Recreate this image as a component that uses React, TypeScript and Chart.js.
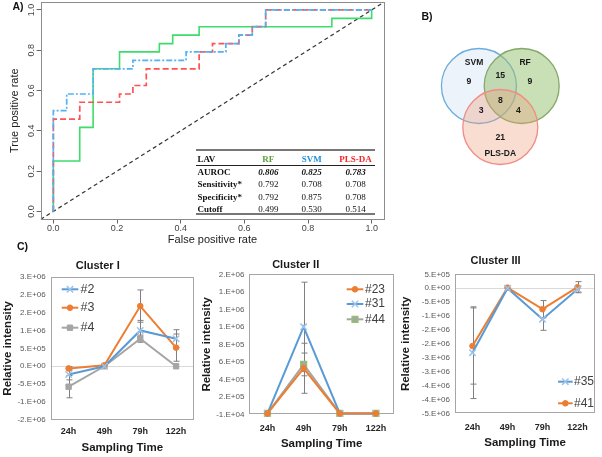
import React, { useEffect, useRef } from 'react';
import { Chart, registerables } from 'chart.js';
import { drawPoint } from 'chart.js/helpers';

Chart.register(...registerables);

const SANS = '"Liberation Sans", Arial, sans-serif';
const SERIF = '"Liberation Serif", "Times New Roman", serif';

// ---------- Panel A: ROC curves ----------
const rfFpr = [0, 0, 0.083, 0.125, 0.208, 0.333, 0.375, 0.458, 0.875, 1];
const rfTpr = [0, 0.25, 0.417, 0.708, 0.792, 0.833, 0.875, 0.917, 0.958, 1];
const svmFpr = [0, 0, 0.042, 0.125, 0.25, 0.417, 0.542, 0.583, 0.625, 0.667, 1];
const svmTpr = [0, 0.5, 0.583, 0.708, 0.75, 0.792, 0.833, 0.875, 0.917, 1, 1];
const plsFpr = [0, 0, 0.083, 0.208, 0.25, 0.292, 0.458, 0.5, 0.583, 0.625, 0.667, 1];
const plsTpr = [0, 0.458, 0.542, 0.583, 0.625, 0.708, 0.792, 0.833, 0.875, 0.917, 1, 1];
const chanceLine = [-0.04, 1.04];
const rocTicks = [0, 0.2, 0.4, 0.6, 0.8, 1.0];
const rocTickLabels = ['0.0', '0.2', '0.4', '0.6', '0.8', '1.0'];

// Table
const modelNames = ['RF', 'SVM', 'PLS-DA'];
const modelColors = ['#5BA03C', '#1F8FD8', '#F02828'];
const auroc = [0.806, 0.825, 0.783];
const sensitivity = [0.792, 0.708, 0.708];
const specificity = [0.792, 0.875, 0.708];
const cutoff = [0.499, 0.53, 0.514];

// ---------- Panel B: Venn ----------
const vennSets = ['SVM', 'RF', 'PLS-DA'];
const vennCenterX = [-0.57, 0.57, 0];
const vennCenterY = [0.547, 0.547, -0.547];
const vennRadius = 37.5;
const vennCounts = [9, 9, 21, 15, 3, 4, 8];
const vennCountX = [-0.84, 0.79, 0, 0, -0.51, 0.48, 0];
const vennCountY = [0.66, 0.66, -0.82, 0.82, -0.12, -0.12, 0.17];
const vennNameX = [-0.7, 0.66, 0];
const vennNameY = [1.16, 1.16, -1.26];

// ---------- Panel C: clusters ----------
const timePoints = ['24h', '49h', '79h', '122h'];

const c1Names = ['#2', '#3', '#4'];
const c1S2 = [-230000, 0, 1000000, 770000];
const c1S3 = [-60000, 30000, 1680000, 520000];
const c1S4 = [-570000, 0, 770000, 0];
const c1E2 = [150000, 0, 280000, 250000];
const c1E3 = [50000, 0, 450000, 380000];
const c1E4 = [310000, 0, 100000, 0];
const c1Ticks = [-1500000, -1000000, -500000, 0, 500000, 1000000, 1500000, 2000000, 2500000];
const c1TickLabels = ['-2.E+06', '-1.E+06', '-5.E+05', '0.E+00', '5.E+05', '1.E+06', '2.E+06', '2.E+06', '3.E+06'];

const c2Names = ['#23', '#31', '#44'];
const c2S23 = [0, 516000, 0, 0];
const c2S31 = [0, 990000, 0, 0];
const c2S44 = [0, 560000, 0, 0];
const c2E23 = [0, 286000, 0, 0];
const c2E31 = [0, 510000, 0, 0];
const c2E44 = [0, 130000, 0, 0];
const c2Ticks = [-10000, 190000, 390000, 590000, 790000, 990000, 1190000, 1390000, 1590000];
const c2TickLabels = ['-1.E+04', '2.E+05', '4.E+05', '6.E+05', '8.E+05', '1.E+06', '1.E+06', '1.E+06', '2.E+06'];

const c3Names = ['#35', '#41'];
const c3S35 = [-2320000, 0, -1115000, -36000];
const c3S41 = [-2080000, 20000, -755000, 36000];
const c3E35 = [1650000, 0, 400000, 110000];
const c3E41 = [1370000, 0, 310000, 200000];
const c3Ticks = [-4500000, -4000000, -3500000, -3000000, -2500000, -2000000, -1500000, -1000000, -500000, 0, 500000];
const c3TickLabels = ['-5.E+06', '-4.E+06', '-4.E+06', '-3.E+06', '-3.E+06', '-2.E+06', '-2.E+06', '-1.E+06', '-5.E+05', '0.E+00', '5.E+05'];

type Style = { color: string; pointStyle: string; radius: number; fill: string; border: string; bw: number };
const BLUE: Style = { color: '#5B9BD5', pointStyle: 'crossRot', radius: 4.5, fill: '#9DC3E6', border: '#9DC3E6', bw: 1.5 };
const ORANGE: Style = { color: '#ED7D31', pointStyle: 'circle', radius: 2.8, fill: '#ED7D31', border: '#ED7D31', bw: 1 };
const GRAY: Style = { color: '#A5A5A5', pointStyle: 'rect', radius: 3.8, fill: '#A5A5A5', border: '#A5A5A5', bw: 1 };
const GRAYGREEN: Style = { color: '#A5A5A5', pointStyle: 'rect', radius: 4.2, fill: '#A5A5A5', border: '#92C46D', bw: 1.3 };

// ---------- helpers ----------
const framePlugin = (color: string, when: 'before' | 'after') => {
  const draw = (chart: any) => {
    const { ctx, chartArea: a } = chart;
    ctx.save();
    ctx.strokeStyle = color;
    ctx.lineWidth = 1;
    ctx.strokeRect(Math.round(a.left) + 0.5, Math.round(a.top) + 0.5, Math.round(a.right - a.left) - 1, Math.round(a.bottom - a.top) - 1);
    ctx.restore();
  };
  return when === 'before'
    ? { id: 'frame', beforeDatasetsDraw: draw }
    : { id: 'frame', afterDraw: draw };
};

const errorBarPlugin = (errors: number[][]) => ({
  id: 'errorBars',
  beforeDatasetsDraw(chart: any) {
    const { ctx } = chart;
    const ys = chart.scales.y;
    ctx.save();
    ctx.strokeStyle = '#7F7F7F';
    ctx.lineWidth = 1;
    chart.data.datasets.forEach((ds: any, i: number) => {
      const meta = chart.getDatasetMeta(i);
      ds.data.forEach((v: number, j: number) => {
        const e = errors[i][j];
        if (!e) return;
        const px = Math.round(meta.data[j].x) + 0.5;
        const t = ys.getPixelForValue(v + e);
        const b = ys.getPixelForValue(v - e);
        ctx.beginPath();
        ctx.moveTo(px, t); ctx.lineTo(px, b);
        ctx.moveTo(px - 3, t); ctx.lineTo(px + 3, t);
        ctx.moveTo(px - 3, b); ctx.lineTo(px + 3, b);
        ctx.stroke();
      });
    });
    ctx.restore();
  },
});

type LegendSpec = { x0: number; x1: number; tx: number; ys: number[]; size: number };
const lineLegendPlugin = (lg: LegendSpec) => ({
  id: 'lineLegend',
  afterDatasetsDraw(chart: any) {
    const { ctx } = chart;
    chart.data.datasets.forEach((ds: any, i: number) => {
      const y = lg.ys[i];
      ctx.save();
      ctx.strokeStyle = ds.borderColor;
      ctx.lineWidth = ds.borderWidth;
      ctx.beginPath();
      ctx.moveTo(lg.x0, y);
      ctx.lineTo(lg.x1, y);
      ctx.stroke();
      ctx.fillStyle = ds.pointBackgroundColor;
      ctx.strokeStyle = ds.pointBorderColor;
      ctx.lineWidth = ds.pointBorderWidth;
      drawPoint(ctx, { pointStyle: ds.pointStyle, radius: ds.pointRadius, rotation: 0, borderWidth: ds.pointBorderWidth } as any, (lg.x0 + lg.x1) / 2, y);
      ctx.fillStyle = '#404040';
      ctx.font = `${lg.size}px ${SANS}`;
      ctx.textAlign = 'left';
      ctx.textBaseline = 'middle';
      ctx.fillText(ds.label, lg.tx, y);
      ctx.restore();
    });
  },
});

function ChartCanvas({ left, top, width, height, make }: { left: number; top: number; width: number; height: number; make: () => any }) {
  const ref = useRef<HTMLCanvasElement>(null);
  useEffect(() => {
    const chart = new Chart(ref.current as HTMLCanvasElement, make());
    return () => chart.destroy();
  }, []);
  return <canvas ref={ref} width={width} height={height} style={{ position: 'absolute', left, top, width, height }} />;
}

// ---------- ROC config ----------
function rocConfig() {
  const pts = (xs: number[], ys: number[]) => xs.map((x, i) => ({ x, y: ys[i] }));
  const line = { pointRadius: 0, fill: false, tension: 0, stepped: 'before' as const };
  const yLabels = {
    id: 'rocYLabels',
    afterDraw(chart: any) {
      const { ctx } = chart;
      const ys = chart.scales.y;
      ctx.save();
      ctx.fillStyle = '#444';
      ctx.font = `9px ${SANS}`;
      ctx.textAlign = 'center';
      ctx.textBaseline = 'middle';
      rocTicks.forEach((v, i) => {
        ctx.save();
        ctx.translate(31.5, ys.getPixelForValue(v));
        ctx.rotate(-Math.PI / 2);
        ctx.fillText(rocTickLabels[i], 0, 0);
        ctx.restore();
      });
      ctx.restore();
    },
  };
  return {
    type: 'line',
    data: {
      datasets: [
        { label: 'SVM', data: pts(svmFpr, svmTpr), borderColor: '#52B3F4', borderWidth: 1.7, borderDash: [6, 2, 2, 2], order: 0, ...line },
        { label: 'PLS-DA', data: pts(plsFpr, plsTpr), borderColor: '#FF5252', borderWidth: 1.7, borderDash: [6, 3], order: 1, ...line },
        { label: 'RF', data: pts(rfFpr, rfTpr), borderColor: '#3EDC6C', borderWidth: 1.6, order: 2, ...line },
        { label: 'chance', data: pts(chanceLine, chanceLine), borderColor: '#333', borderWidth: 1.2, borderDash: [4, 3], order: 3, pointRadius: 0, fill: false },
      ],
    },
    options: {
      animation: false,
      responsive: false,
      events: [],
      layout: { padding: { top: 1.9, right: 15.6, left: 0, bottom: 0 } },
      plugins: { legend: { display: false }, tooltip: { enabled: false }, title: { display: false } },
      scales: {
        x: {
          type: 'linear', min: -0.04, max: 1.04,
          afterBuildTicks: (s: any) => { s.ticks = rocTicks.map((v) => ({ value: v })); },
          afterFit: (s: any) => { s.height = 30.5; },
          grid: { drawOnChartArea: false, drawTicks: true, tickLength: 4, color: '#666' },
          border: { display: false },
          ticks: { font: { family: SANS, size: 9 }, color: '#444', padding: 0.1, maxRotation: 0, callback: (v: number) => rocTickLabels[rocTicks.indexOf(v)] },
          title: { display: true, text: 'False positive rate', font: { family: SANS, size: 11 }, color: '#222', padding: { top: 0, bottom: 3.4 } },
        },
        y: {
          type: 'linear', min: -0.04, max: 1.04,
          afterBuildTicks: (s: any) => { s.ticks = rocTicks.map((v) => ({ value: v })); },
          afterFit: (s: any) => { s.width = 40.6; },
          grid: { drawOnChartArea: false, drawTicks: true, tickLength: 4, color: '#666' },
          border: { display: false },
          ticks: { display: false },
          title: { display: true, text: 'True positive rate', font: { family: SANS, size: 11 }, color: '#222', padding: { top: 8.4, bottom: 0 } },
        },
      },
    },
    plugins: [framePlugin('#8C8C8C', 'after'), yLabels],
  };
}

// ---------- Venn config ----------
function vennConfig() {
  const fills = ['rgba(198,218,238,0.32)', 'rgba(147,191,107,0.5)', 'rgba(238,158,121,0.35)'];
  const strokes = ['#6BAEDD', '#86A86A', '#F08C84'];
  const orders = [2, 1, 0];
  const labels = {
    id: 'vennLabels',
    afterDatasetsDraw(chart: any) {
      const { ctx } = chart;
      const xs = chart.scales.x;
      const ys = chart.scales.y;
      ctx.save();
      ctx.fillStyle = '#1A1A1A';
      ctx.textAlign = 'center';
      ctx.textBaseline = 'middle';
      ctx.font = `bold 8.7px ${SANS}`;
      vennCounts.forEach((c, i) => ctx.fillText(String(c), xs.getPixelForValue(vennCountX[i]), ys.getPixelForValue(vennCountY[i])));
      ctx.font = `bold 8.5px ${SANS}`;
      vennSets.forEach((n, i) => ctx.fillText(n, xs.getPixelForValue(vennNameX[i]), ys.getPixelForValue(vennNameY[i])));
      ctx.restore();
    },
  };
  return {
    type: 'bubble',
    data: {
      datasets: vennSets.map((name, i) => ({
        label: name,
        data: [{ x: vennCenterX[i], y: vennCenterY[i], r: vennRadius }],
        backgroundColor: fills[i],
        borderColor: strokes[i],
        borderWidth: 1.3,
        order: orders[i],
        clip: false,
      })),
    },
    options: {
      animation: false,
      responsive: false,
      events: [],
      layout: { padding: 0, autoPadding: false },
      plugins: { legend: { display: false }, tooltip: { enabled: false } },
      scales: {
        x: { type: 'linear', display: false, min: -2.675, max: 2.712 },
        y: { type: 'linear', display: false, min: -3.293, max: 2.84 },
      },
    },
    plugins: [labels],
  };
}

// ---------- Cluster configs ----------
type Box = { padRight: number; titlePad: [number, number]; yWidth: number; yTitlePad: number; xHeight: number; xTickPad: number; xTitlePad: number };
function clusterConfig(title: string, names: string[], values: number[][], errors: number[][], styles: Style[], ticks: number[], tickLabels: string[], box: Box, legend: LegendSpec) {
  return {
    type: 'line',
    data: {
      labels: timePoints,
      datasets: names.map((n, i) => ({
        label: n,
        data: values[i],
        borderColor: styles[i].color,
        borderWidth: 2,
        pointStyle: styles[i].pointStyle,
        pointRadius: styles[i].radius,
        pointBackgroundColor: styles[i].fill,
        pointBorderColor: styles[i].border,
        pointBorderWidth: styles[i].bw,
        fill: false,
        tension: 0,
        clip: false,
      })),
    },
    options: {
      animation: false,
      responsive: false,
      events: [],
      layout: { padding: { top: 0, left: 0, bottom: 0, right: box.padRight } },
      plugins: {
        legend: { display: false },
        tooltip: { enabled: false },
        title: { display: true, text: title, font: { family: SANS, size: 11, weight: 'bold' }, color: '#1A1A1A', padding: { top: box.titlePad[0], bottom: box.titlePad[1] } },
      },
      scales: {
        x: {
          type: 'category', offset: true,
          afterFit: (s: any) => { s.height = box.xHeight; },
          grid: { display: false, drawTicks: false },
          border: { display: false },
          ticks: { font: { family: SANS, size: 9, weight: 'bold' }, color: '#262626', padding: box.xTickPad, maxRotation: 0 },
          title: { display: true, text: 'Sampling Time', font: { family: SANS, size: 11.5, weight: 'bold' }, color: '#1A1A1A', padding: { top: 0, bottom: box.xTitlePad } },
        },
        y: {
          type: 'linear', min: ticks[0], max: ticks[ticks.length - 1],
          afterBuildTicks: (s: any) => { s.ticks = ticks.map((v) => ({ value: v })); },
          afterFit: (s: any) => { s.width = box.yWidth; },
          grid: { drawTicks: false, color: (c: any) => (c.tick && c.tick.value === 0 ? '#D9D9D9' : 'rgba(0,0,0,0)'), lineWidth: 1 },
          border: { display: false },
          ticks: { font: { family: SANS, size: 8 }, color: '#595959', padding: 5, callback: (v: number) => tickLabels[ticks.indexOf(v)] },
          title: { display: true, text: 'Relative intensity', font: { family: SANS, size: 11.5, weight: 'bold' }, color: '#1A1A1A', padding: { top: box.yTitlePad, bottom: 0 } },
        },
      },
    },
    plugins: [framePlugin('#A6A6A6', 'before'), errorBarPlugin(errors), lineLegendPlugin(legend)],
  };
}

const labelStyle = (left: number, top: number): React.CSSProperties => ({
  position: 'absolute', left, top, font: `bold 10.5px ${SANS}`, lineHeight: '12px', color: '#111', whiteSpace: 'nowrap',
});

function RocTable() {
  const labelX = 197.5;
  const colCenters = [268.3, 311.7, 355.5];
  const rowY = [159.8, 172.7, 184.7, 197, 209.3];
  const cell = (text: string, cx: number, cy: number, extra: React.CSSProperties = {}) => (
    <div key={text + cx + cy} style={{ position: 'absolute', left: cx - 30, top: cy - 5.5, width: 60, textAlign: 'center', font: `9px ${SERIF}`, lineHeight: '11px', color: '#111', whiteSpace: 'nowrap', ...extra }}>{text}</div>
  );
  const rowLabel = (text: string, cy: number) => (
    <div key={text} style={{ position: 'absolute', left: labelX, top: cy - 5.5, font: `bold 9px ${SERIF}`, lineHeight: '11px', color: '#111', whiteSpace: 'nowrap' }}>{text}</div>
  );
  const rows: [string, number[], React.CSSProperties][] = [
    ['AUROC', auroc, { fontWeight: 'bold', fontStyle: 'italic' }],
    ['Sensitivity*', sensitivity, {}],
    ['Specificity*', specificity, {}],
    ['Cutoff', cutoff, {}],
  ];
  return (
    <>
      <div style={{ position: 'absolute', left: 196, top: 149.2, width: 179, height: 1.8, background: '#777' }} />
      <div style={{ position: 'absolute', left: 196, top: 164.5, width: 179, height: 1, background: '#222' }} />
      <div style={{ position: 'absolute', left: 196, top: 213.3, width: 179, height: 1.8, background: '#777' }} />
      {rowLabel('LAV', rowY[0])}
      {modelNames.map((m, i) => cell(m, colCenters[i], rowY[0], { fontWeight: 'bold', color: modelColors[i] }))}
      {rows.map(([name, vals, st], r) => (
        <React.Fragment key={name}>
          {rowLabel(name, rowY[r + 1])}
          {vals.map((v, i) => cell(v.toFixed(3), colCenters[i], rowY[r + 1], st))}
        </React.Fragment>
      ))}
    </>
  );
}

export default function App() {
  return (
    <div style={{ position: 'fixed', left: 0, top: 0, width: 602, height: 457, background: '#fff', overflow: 'hidden' }}>
      <ChartCanvas left={0} top={0} width={400} height={250} make={rocConfig} />
      <ChartCanvas left={400} top={0} width={202} height={230} make={vennConfig} />
      <ChartCanvas left={0} top={250} width={200} height={207} make={() => clusterConfig(
        'Cluster I', c1Names, [c1S2, c1S3, c1S4], [c1E2, c1E3, c1E4], [BLUE, ORANGE, GRAY], c1Ticks, c1TickLabels,
        { padRight: 4.5, titlePad: [9.4, 4.1], yWidth: 50.7, yTitlePad: 1.1, xHeight: 37, xTickPad: 6.3, xTitlePad: 1.8 },
        { x0: 61.7, x1: 78.3, tx: 80.5, ys: [39.3, 57.7, 77.7], size: 12.5 })} />
      <ChartCanvas left={196} top={250} width={204} height={207} make={() => clusterConfig(
        'Cluster II', c2Names, [c2S23, c2S31, c2S44], [c2E23, c2E31, c2E44], [ORANGE, BLUE, GRAYGREEN], c2Ticks, c2TickLabels,
        { padRight: 4.6, titlePad: [8.4, 2.7], yWidth: 53.4, yTitlePad: 4.1, xHeight: 42.7, xTickPad: 9.3, xTitlePad: 5.8 },
        { x0: 150.7, x1: 167.3, tx: 169, ys: [39.3, 54, 69.3], size: 12 })} />
      <ChartCanvas left={396} top={250} width={206} height={207} make={() => clusterConfig(
        'Cluster III', c3Names, [c3S35, c3S41], [c3E35, c3E41], [BLUE, ORANGE], c3Ticks, c3TickLabels,
        { padRight: 7, titlePad: [4.1, 7.0], yWidth: 59, yTitlePad: 2.8, xHeight: 43.7, xTickPad: 9, xTitlePad: 6.8 },
        { x0: 162, x1: 176.7, tx: 178, ys: [131.7, 153.3], size: 12 })} />
      <RocTable />
      <div style={labelStyle(12.5, 0)}>A)</div>
      <div style={labelStyle(421.5, 9.5)}>B)</div>
      <div style={labelStyle(17, 240)}>C)</div>
    </div>
  );
}
